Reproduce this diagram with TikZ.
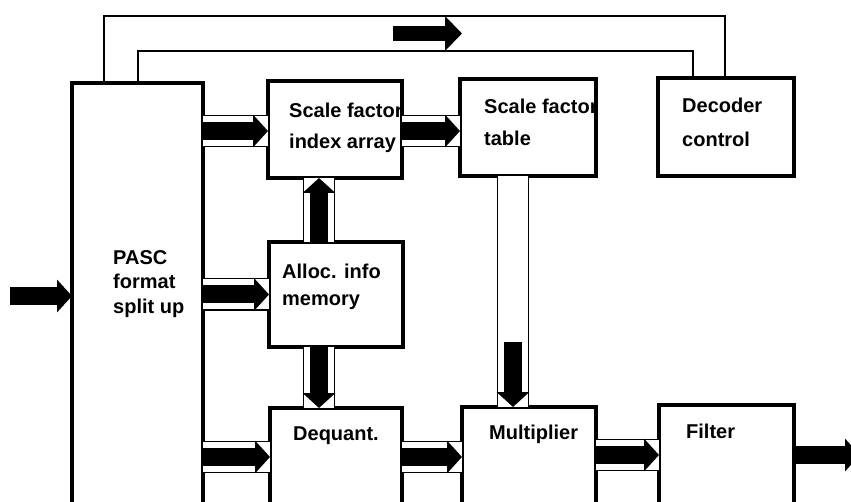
\documentclass[tikz,border=0pt]{standalone}
\usepackage{fontspec}
\setmainfont{Liberation Sans}
\usetikzlibrary{arrows.meta}

\tikzset{
  blk/.style={draw, line width=3.5pt, inner sep=0pt, outer sep=0pt, anchor=north west},
  txt/.style={font=\bfseries\fontsize{20}{31}\selectfont, align=left, inner sep=0pt, anchor=north west},
  wire/.style={line width=1.2pt},
  chan/.style={double, double distance=30pt, line width=1.2pt},
  fat/.style={line width=18pt, -{Triangle[length=15pt, width=32pt]}},
}

\begin{document}
\begin{tikzpicture}[x=1pt, y=-1pt]
    \useasboundingbox (0,0) rectangle (851,502);
    \clip (0,0) rectangle (851,502);

    % blocks
    \node[blk, minimum width=131pt, minimum height=460pt] (pasc) at (72,83) {};
    \node[blk, minimum width=134pt, minimum height=97pt] (sfi) at (268,81) {};
    \node[blk, minimum width=136pt, minimum height=97pt] (tbl) at (460,79) {};
    \node[blk, minimum width=136pt, minimum height=98pt] (dec) at (658,78) {};
    \node[blk, minimum width=134pt, minimum height=105pt] (alloc) at (269,242) {};
    \node[blk, minimum width=132pt, minimum height=140pt] (deq) at (270,408) {};
    \node[blk, minimum width=134pt, minimum height=140pt] (mult) at (462,407) {};
    \node[blk, minimum width=135pt, minimum height=140pt] (filt) at (659,405) {};

    % rows and columns of the buses
    \coordinate (in) at (10,296);
    \coordinate (r1) at (0,131);
    \coordinate (r2) at (0,294.5);
    \coordinate (r3) at (0,457);
    \coordinate (r4) at (0,455);
    \coordinate (c1) at (319,0);
    \coordinate (c2) at (513,0);
    \coordinate (mstart) at (513,342);
    \coordinate (out) at (860,455);
    \coordinate (fb) at (393,33.5);

    % feedback to the decoder control
    \draw[wire] (pasc.north -| 104,0) |- (725,16) -- (dec.north -| 725,0);
    \draw[wire] (pasc.north -| 138,0) |- (693,51) -- (dec.north -| 693,0);
    \draw[line width=15pt, -{Triangle[length=17pt, width=34pt]}] (fb) -- ++(69,0);

    % bus channels
    \draw[chan] (pasc.east |- r1) -- (sfi.west |- r1);
    \draw[chan] (sfi.east |- r1) -- (tbl.west |- r1);
    \draw[chan] (pasc.east |- r2) -- (alloc.west |- r2);
    \draw[chan] (pasc.east |- r3) -- (deq.west |- r3);
    \draw[chan] (deq.east |- r3) -- (mult.west |- r3);
    \draw[chan] (mult.east |- r4) -- (filt.west |- r4);
    \draw[chan] (alloc.north -| c1) -- (sfi.south -| c1);
    \draw[chan] (alloc.south -| c1) -- (deq.north -| c1);
    \draw[chan] (tbl.south -| c2) -- (mult.north -| c2);

    % data flow
    \draw[fat] (in) -- (in -| pasc.west);
    \draw[fat] (pasc.east |- r1) -- (sfi.west |- r1);
    \draw[fat] (sfi.east |- r1) -- (tbl.west |- r1);
    \draw[fat] (pasc.east |- r2) -- (alloc.west |- r2);
    \draw[fat] (pasc.east |- r3) -- (deq.west |- r3);
    \draw[fat] (deq.east |- r3) -- (mult.west |- r3);
    \draw[fat] (mult.east |- r4) -- (filt.west |- r4);
    \draw[fat] (filt.east |- out) -- (out);
    \draw[fat] (alloc.north -| c1) -- (sfi.south -| c1);
    \draw[fat] (alloc.south -| c1) -- (deq.north -| c1);
    \draw[fat] (mstart) -- (mult.north -| c2);

    % labels
    \begin{scope}
        \clip (sfi.north west) rectangle (sfi.south east);
        \node[txt] (sfitxt) at (289,102.5) {Scale factor\\index array};
    \end{scope}
    \begin{scope}
        \clip (tbl.north west) rectangle (tbl.south east);
        \node[txt, font=\bfseries\fontsize{20}{32}\selectfont] (tbltxt) at (484,99) {Scale factor\\table};
    \end{scope}
    \node[txt, font=\bfseries\fontsize{20}{34}\selectfont] (dectxt) at (682,98) {Decoder\\control};
    \node[txt, font=\bfseries\fontsize{20}{24.5}\selectfont] (pasctxt) at (113,250) {PASC\\format\\split up};
    \node[txt, font=\bfseries\fontsize{20}{27}\selectfont] (alloctxt) at (282,264) {Alloc. info\\memory};
    \node[txt] (deqtxt) at (293,427) {Dequant.};
    \node[txt] (multtxt) at (489,425) {Multiplier};
    \node[txt] (filttxt) at (686,424) {Filter};
\end{tikzpicture}
\end{document}
